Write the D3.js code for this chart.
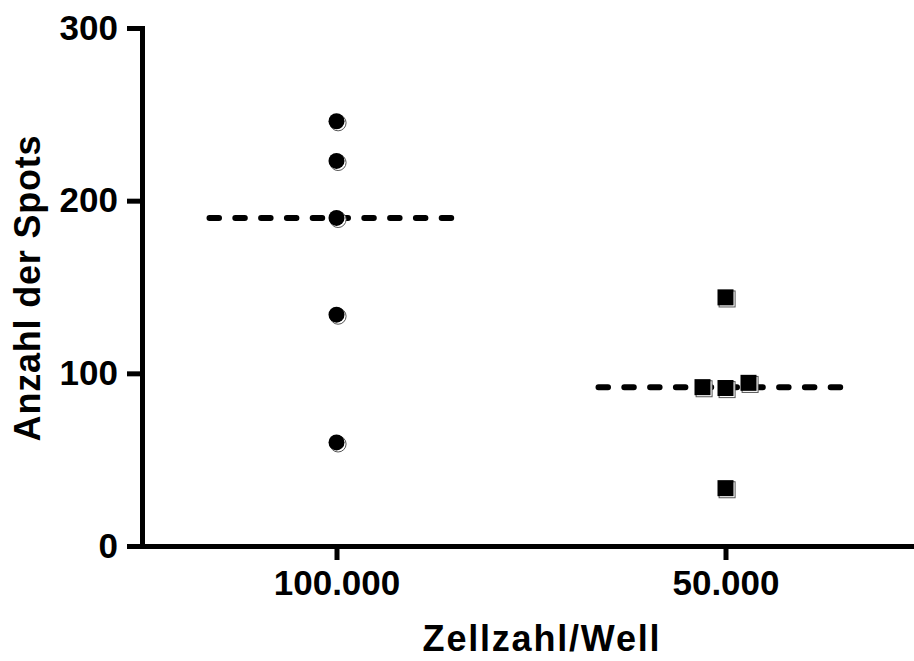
<!DOCTYPE html>
<html>
<head>
<meta charset="utf-8">
<script src="https://cdn.jsdelivr.net/npm/d3@7"></script>
<style>
  body { margin: 0; background: #fff; }
  svg text { font-family: "Liberation Sans", Arial, sans-serif; font-weight: bold; fill: #000; }
  .tick text { font-size: 35px; }
  .axis-title { font-size: 36px; }
</style>
</head>
<body>
<svg id="chart" width="914" height="661"></svg>
<script>
// Data
var categories = ['100.000', '50.000'];
var spots100k  = [246, 223, 190, 134, 60];
var spots50k   = [144, 92, 91.5, 94.5, 33.5];
var yTicks     = [0, 100, 200, 300];
var xTitle = 'Zellzahl/Well',
    yTitle = 'Anzahl der Spots';

var groups = [
  { name: categories[0], values: spots100k, shape: 'circle' },
  { name: categories[1], values: spots50k,  shape: 'square' }
];

var svg = d3.select('#chart');

var x = d3.scalePoint().domain(categories).range([142, 920]).padding(0.5);
var y = d3.scaleLinear().domain([0, 300]).range([546, 28]);

var markSize = 16,
    jitterStep = 23;

// y axis
svg.append('g')
  .attr('class', 'axis')
  .attr('transform', 'translate(142,0)')
  .call(d3.axisLeft(y).tickValues(yTicks).tickSize(15).tickSizeOuter(0).tickPadding(9));

// x axis
svg.append('g')
  .attr('class', 'axis')
  .attr('transform', 'translate(0,546)')
  .call(d3.axisBottom(x).tickSize(14).tickSizeOuter(0).tickPadding(10));

svg.selectAll('.axis .domain')
  .attr('stroke', '#000')
  .attr('stroke-width', 5)
  .attr('stroke-linecap', 'square');
svg.selectAll('.axis .tick line')
  .attr('stroke', '#000')
  .attr('stroke-width', 5);

// spread points that would overlap vertically
function jitter(values) {
  var pts = values.map(function(v, i) { return { v: v, i: i, py: y(v), dx: 0 }; });
  var sorted = pts.slice().sort(function(a, b) { return a.py - b.py; });
  var clusters = [], cur = [];
  sorted.forEach(function(p) {
    if (cur.length && p.py - cur[cur.length - 1].py >= markSize) {
      clusters.push(cur); cur = [];
    }
    cur.push(p);
  });
  if (cur.length) clusters.push(cur);
  clusters.forEach(function(c) {
    c.sort(function(a, b) { return a.i - b.i; });
    c.forEach(function(p, k) { p.dx = (k - (c.length - 1) / 2) * jitterStep; });
  });
  return pts;
}

// median lines
svg.append('g').selectAll('line')
  .data(groups)
  .enter()
  .append('line')
  .attr('x1', function(d) { return x(d.name) - 127; })
  .attr('x2', function(d) { return x(d.name) + 116; })
  .attr('y1', function(d) { return y(d3.median(d.values)); })
  .attr('y2', function(d) { return y(d3.median(d.values)); })
  .attr('stroke', '#000')
  .attr('stroke-width', 6)
  .attr('stroke-linecap', 'round')
  .attr('stroke-dasharray', '9.5,16.3');

// points: a thin offset outline behind each black marker
groups.forEach(function(g) {
  var pts = jitter(g.values);
  var cx = x(g.name);
  var layer = svg.append('g');
  [{ off: 1.6, fill: '#fff', stroke: '#555' }, { off: 0, fill: '#000', stroke: 'none' }].forEach(function(s) {
    if (g.shape === 'circle') {
      layer.selectAll(null)
        .data(pts)
        .enter()
        .append('circle')
        .attr('cx', function(p) { return cx + p.dx + s.off; })
        .attr('cy', function(p) { return p.py + s.off; })
        .attr('r', markSize / 2)
        .attr('fill', s.fill)
        .attr('stroke', s.stroke)
        .attr('stroke-width', 1);
    } else {
      layer.selectAll(null)
        .data(pts)
        .enter()
        .append('rect')
        .attr('x', function(p) { return cx + p.dx - markSize / 2 + s.off; })
        .attr('y', function(p) { return p.py - markSize / 2 + s.off; })
        .attr('width', markSize)
        .attr('height', markSize)
        .attr('fill', s.fill)
        .attr('stroke', s.stroke)
        .attr('stroke-width', 1);
    }
  });
});

// axis titles
svg.append('text')
  .attr('class', 'axis-title')
  .attr('x', 542)
  .attr('y', 651)
  .attr('text-anchor', 'middle')
  .style('letter-spacing', '1.8px')
  .text(xTitle);

svg.append('text')
  .attr('class', 'axis-title')
  .attr('transform', 'translate(40,288) rotate(-90)')
  .attr('text-anchor', 'middle')
  .style('letter-spacing', '0.8px')
  .text(yTitle);
</script>
</body>
</html>
